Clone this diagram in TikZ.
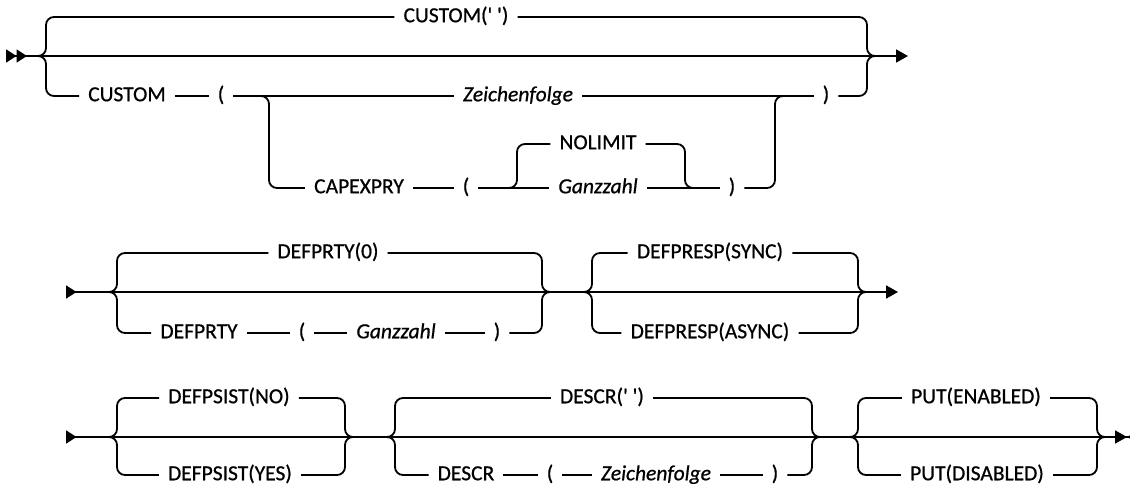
\documentclass[tikz,border=0pt]{standalone}
\usepackage{fontspec}
\setmainfont{Carlito}[FakeBold=0.7]
\usetikzlibrary{arrows.meta}
\tikzset{
    rail/.style={line width=1.8pt, rounded corners=8pt},
    kw/.style={inner xsep=9pt, inner ysep=0pt, text height=13.5pt, text depth=3pt,
        font=\fontsize{21.5}{24}\selectfont},
    var/.style={kw, font=\fontsize{21.5}{24}\selectfont\itshape},
    railin/.tip={Triangle[reversed,length=10.5pt,width=13pt]},
    railout/.tip={Triangle[length=12pt,width=13pt]},
    railstop/.tip={Triangle[reversed,length=12pt,width=13pt]}
}

\begin{document}
\begin{tikzpicture}[x=1pt,y=-1pt]
  \useasboundingbox (0,0) rectangle (1130,486);

  % Forks and merges
    \coordinate (s1) at (6,56);    \coordinate (e1) at (908,56);
    \coordinate (j1) at (38,56);   \coordinate (m1) at (867,56);
    \coordinate (f1) at (261,96);  \coordinate (m2) at (775,96);
    \coordinate (f2) at (509,188); \coordinate (m3) at (685,188);
    \coordinate (s2) at (66,292);  \coordinate (e2) at (898,292);
    \coordinate (j2) at (109,292); \coordinate (m4) at (542,292);
    \coordinate (j3) at (584,292); \coordinate (m5) at (858,292);
    \coordinate (s3) at (66,437);  \coordinate (e3) at (1139,437);
    \coordinate (j4) at (109,437); \coordinate (m6) at (345,437);
    \coordinate (j5) at (387,437); \coordinate (m7) at (812,437);
    \coordinate (j6) at (850,437); \coordinate (m8) at (1097,437);

  % CUSTOM
    \node[kw] (t1) at (456,17) {CUSTOM(\textquotesingle\ \textquotesingle)};
    \node[kw] (c1) at (127,96) {CUSTOM};
    \node[kw] (p1) at (221,96) {(};
    \node[var] (z1) at (518,96) {Zeichenfolge};
    \node[kw] (r1) at (826,96) {)};
    \node[kw] (cap) at (359,188) {CAPEXPRY};
    \node[kw] (p2) at (466,188) {(};
    \node[kw] (nolim) at (598,144) {NOLIMIT};
    \node[var] (gz1) at (598,188) {Ganzzahl};
    \node[kw] (r2) at (732,188) {)};

    \draw[rail,{railin[]railin[]}-railout] (s1) -- (e1);
    \foreach \n in {t1,c1} \draw[rail] (j1) -- ++(8,0) |- (\n);
    \foreach \n in {t1,r1} \draw[rail] (\n) -| (m1) -- ++(8,0);
    \draw[rail] (c1) -- (p1) -- (z1) -- (r1);
    \draw[rail] (f1) -- ++(8,0) |- (cap);
    \draw[rail] (cap) -- (p2) -- (gz1) -- (r2);
    \draw[rail] (r2) -| (m2) -- ++(8,0);
    \draw[rail] (f2) -- ++(8,0) |- (nolim);
    \draw[rail] (nolim) -| (m3) -- ++(8,0);

  % DEFPRTY, DEFPRESP
    \node[kw] (d0) at (328,253) {DEFPRTY(0)};
    \node[kw] (dp) at (199,333) {DEFPRTY};
    \node[kw] (p3) at (302,333) {(};
    \node[var] (gz2) at (396,333) {Ganzzahl};
    \node[kw] (r3) at (497,333) {)};
    \node[kw] (sync) at (710,253) {DEFPRESP(SYNC)};
    \node[kw] (async) at (710,333) {DEFPRESP(ASYNC)};

    \draw[rail,railin-railout] (s2) -- (e2);
    \foreach \n in {d0,dp} \draw[rail] (j2) -- ++(8,0) |- (\n);
    \foreach \n in {d0,r3} \draw[rail] (\n) -| (m4) -- ++(8,0);
    \draw[rail] (dp) -- (p3) -- (gz2) -- (r3);
    \foreach \n in {sync,async} {
      \draw[rail] (j3) -- ++(8,0) |- (\n);
      \draw[rail] (\n) -| (m5) -- ++(8,0);
    }

  % DEFPSIST, DESCR, PUT
    \node[kw] (no) at (229,398) {DEFPSIST(NO)};
    \node[kw] (yes) at (230,475) {DEFPSIST(YES)};
    \node[kw] (d1) at (602,398) {DESCR(\textquotesingle\ \textquotesingle)};
    \node[kw] (ds) at (466,475) {DESCR};
    \node[kw] (p4) at (550,475) {(};
    \node[var] (z2) at (656,475) {Zeichenfolge};
    \node[kw] (r4) at (775,475) {)};
    \node[kw] (en) at (976,398) {PUT(ENABLED)};
    \node[kw] (dis) at (977,475) {PUT(DISABLED)};

    \draw[rail,railin-{railout[]railstop[]}] (s3) -- (e3);
    \foreach \n in {no,yes} {
      \draw[rail] (j4) -- ++(8,0) |- (\n);
      \draw[rail] (\n) -| (m6) -- ++(8,0);
    }
    \foreach \n in {d1,ds} \draw[rail] (j5) -- ++(8,0) |- (\n);
    \foreach \n in {d1,r4} \draw[rail] (\n) -| (m7) -- ++(8,0);
    \draw[rail] (ds) -- (p4) -- (z2) -- (r4);
    \foreach \n in {en,dis} {
      \draw[rail] (j6) -- ++(8,0) |- (\n);
      \draw[rail] (\n) -| (m8) -- ++(8,0);
    }
\end{tikzpicture}
\end{document}
